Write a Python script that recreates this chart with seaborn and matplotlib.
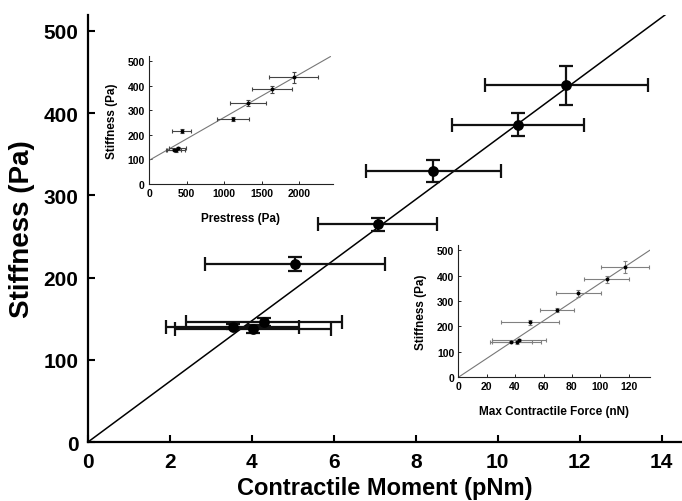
import numpy as np
import pandas as pd
import matplotlib
matplotlib.use("Agg")
import matplotlib.pyplot as plt
import seaborn as sns

# main panel: contractile moment vs stiffness
moment = [3.53, 4.03, 4.29, 5.05, 7.07, 8.43, 10.50, 11.68]
moment_err = [1.63, 1.91, 1.90, 2.20, 1.45, 1.65, 1.62, 2.00]
stiffness = [140, 137, 146, 216, 265, 330, 386, 434]
stiffness_err = [3, 5, 5, 8.5, 8, 13.5, 14, 23.5]
main_fit_x = [0, 14.1]
main_fit_y = [0, 520]

# inset 1: prestress
prestress = [330, 365, 380, 436, 1114, 1323, 1644, 1929]
prestress_err = [100, 120, 110, 125, 214, 240, 265, 330]
inset1_fit_x = [0, 2420]
inset1_fit_y = [96, 519]

# inset 2: max contractile force
force = [37, 41, 43, 50.5, 69.5, 84.5, 104.5, 117.6]
force_err = [15, 17, 19, 20.4, 12, 15.7, 16, 17]
inset2_fit_x = [0, 135]
inset2_fit_y = [0, 500]


def draw_panel(ax, x, xerr, y, yerr, fit_x, fit_y, ms, ebar_color, lw, cap, line_color, line_w):
    df = pd.DataFrame({"x": x, "y": y})
    sns.lineplot(x=fit_x, y=fit_y, ax=ax, color=line_color, linewidth=line_w, zorder=1)
    ax.errorbar(x, y, xerr=xerr, yerr=yerr, fmt="none", ecolor=ebar_color,
                elinewidth=lw, capsize=cap, capthick=lw, zorder=2)
    sns.scatterplot(data=df, x="x", y="y", ax=ax, color="black", s=ms, marker="o",
                    edgecolor="black", linewidth=0, zorder=3)


def main():
    sns.set_style("ticks")
    plt.rcParams["font.family"] = ["Liberation Sans", "DejaVu Sans"]
    plt.rcParams["font.weight"] = "bold"
    for k in ["text.color", "axes.labelcolor", "xtick.color", "ytick.color"]:
        plt.rcParams[k] = "black"

    fig = plt.figure(figsize=(6.82, 5.02), dpi=100)
    ax = fig.add_axes([0.129, 0.1175, 0.871, 0.8516])

    draw_panel(ax, moment, moment_err, stiffness, stiffness_err, main_fit_x, main_fit_y,
               ms=60, ebar_color="#111111", lw=1.6, cap=4.8, line_color="black", line_w=1.1)
    ax.set_xlim(0, 14.5)
    ax.set_ylim(0, 520)
    ax.set_xticks(np.arange(0, 15, 2))
    ax.set_yticks(np.arange(0, 501, 100))
    ax.tick_params(direction="in", length=5, width=1.5, labelsize=15, pad=7)
    for lab in ax.get_xticklabels() + ax.get_yticklabels():
        lab.set_fontweight("bold")
    ax.set_xlabel("Contractile Moment (pNm)", fontsize=17, fontweight="bold", labelpad=4)
    ax.set_ylabel("Stiffness (Pa)", fontsize=20, fontweight="bold", labelpad=6)
    sns.despine(ax=ax)
    for s in ["left", "bottom"]:
        ax.spines[s].set_linewidth(1.6)
        ax.spines[s].set_color("black")

    insets = [
        ([0.2185, 0.6315, 0.2694, 0.2544], prestress, prestress_err, inset1_fit_x, inset1_fit_y,
         (0, 2450), np.arange(0, 2001, 500), "Prestress (Pa)", "#444444"),
        ([0.672, 0.2464, 0.2811, 0.2635], force, force_err, inset2_fit_x, inset2_fit_y,
         (0, 135), np.arange(0, 121, 20), "Max Contractile Force (nN)", "#808080"),
    ]
    for pos, xv, xe, fx, fy, xl, xt, xlabel, ecol in insets:
        iax = fig.add_axes(pos)
        iax.patch.set_alpha(0)
        draw_panel(iax, xv, xe, stiffness, stiffness_err, fx, fy,
                   ms=8, ebar_color=ecol, lw=0.8, cap=1.6, line_color="#777777", line_w=0.8)
        iax.set_xlim(*xl)
        iax.set_ylim(0, 520)
        iax.set_xticks(xt)
        iax.set_yticks(np.arange(0, 501, 100))
        iax.tick_params(direction="in", length=2, width=0.6, labelsize=7.5, pad=3)
        for lab in iax.get_xticklabels() + iax.get_yticklabels():
            lab.set_fontweight("bold")
        iax.set_xlabel(xlabel, fontsize=8.5, fontweight="bold", labelpad=10)
        iax.set_ylabel("Stiffness (Pa)", fontsize=8.5, fontweight="bold", labelpad=7)
        sns.despine(ax=iax)
        for s in ["left", "bottom"]:
            iax.spines[s].set_linewidth(0.8)
            iax.spines[s].set_color("#222222")

    fig.savefig("out.png", dpi=100)


if __name__ == "__main__":
    main()
